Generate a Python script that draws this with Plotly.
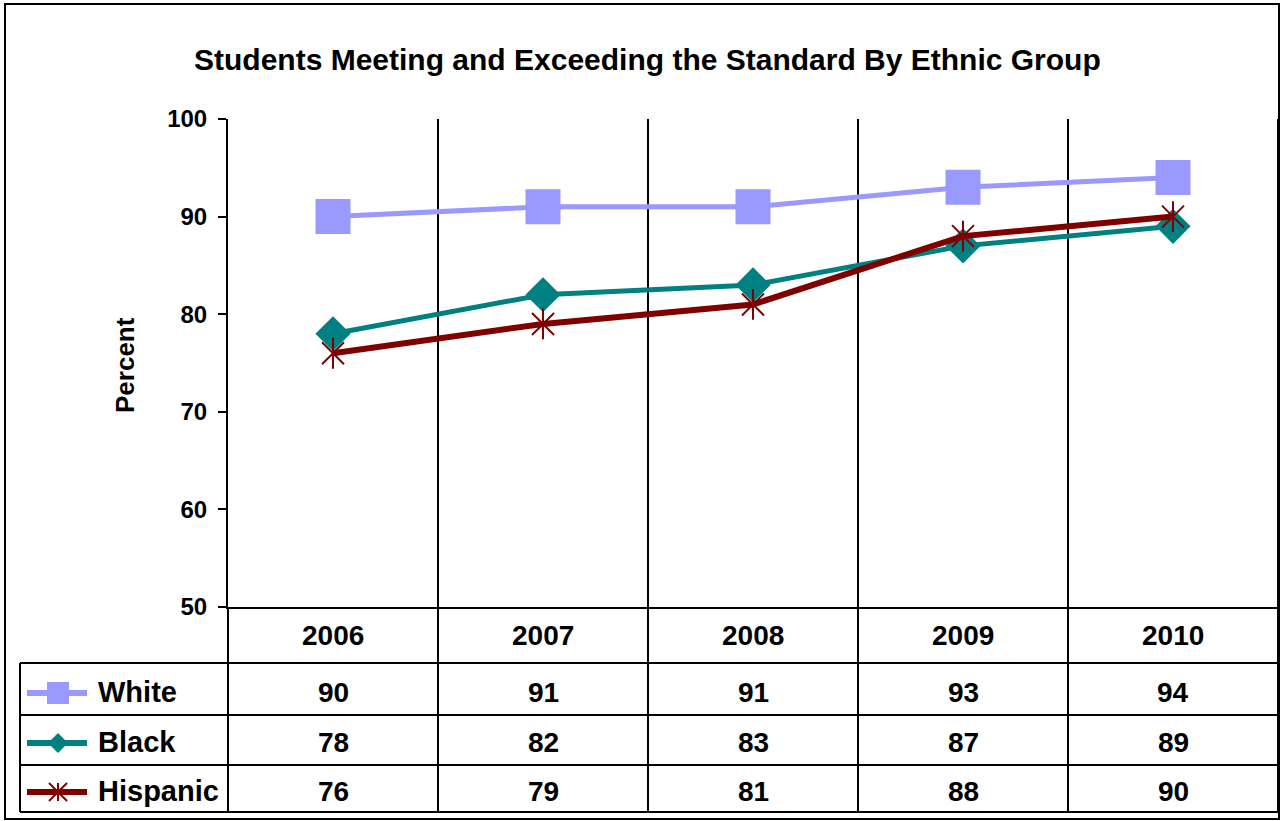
import plotly.graph_objects as go

# ---------------- data ----------------
years = ["2006", "2007", "2008", "2009", "2010"]
white = [90, 91, 91, 93, 94]
black = [78, 82, 83, 87, 89]
hispanic = [76, 79, 81, 88, 90]
series_names = ["White", "Black", "Hispanic"]
series_values = [white, black, hispanic]
y_ticks = [50, 60, 70, 80, 90, 100]
title_text = "Students Meeting and Exceeding the Standard By Ethnic Group"
y_title = "Percent"

# ---------------- layout constants (pixels) ----------------
W, H = 1280, 821
PL, PR, PT, PB = 228, 1278, 119, 607
FONT = "Liberation Sans, Arial, sans-serif"
colors = ["#9999FF", "#008080", "#800000"]
row_lines = [663, 715, 765, 812]
row_text_y = [692, 742, 791]
year_text_y = 635


def px(x):
    return (x - PL) / (PR - PL)


def py(y):
    return (PB - y) / (PB - PT)


fig = go.Figure()

fig.add_trace(go.Scatter(x=years, y=white, mode="lines+markers", name="White",
                         line=dict(color=colors[0], width=5),
                         marker=dict(symbol="square", size=35, color=colors[0])))
fig.add_trace(go.Scatter(x=years, y=black, mode="lines+markers", name="Black",
                         line=dict(color=colors[1], width=5),
                         marker=dict(symbol="diamond", size=27, color=colors[1])))
fig.add_trace(go.Scatter(x=years, y=hispanic, mode="lines+markers", name="Hispanic",
                         line=dict(color=colors[2], width=6),
                         marker=dict(symbol="x-thin-open", size=22, color=colors[2],
                                     line=dict(color=colors[2], width=2))))
fig.add_trace(go.Scatter(x=years, y=hispanic, mode="markers", name="Hispanic ",
                         marker=dict(symbol="line-ns-open", size=22, color=colors[2],
                                     line=dict(color=colors[2], width=2))))

shapes = []


def pline(x0, y0, x1, y1, w=2, color="black"):
    shapes.append(dict(type="line", xref="paper", yref="paper",
                       x0=px(x0), y0=py(y0), x1=px(x1), y1=py(y1),
                       line=dict(color=color, width=w)))


# outer border
shapes.append(dict(type="rect", xref="paper", yref="paper",
                   x0=px(5), y0=py(4), x1=px(1279), y1=py(819),
                   line=dict(color="black", width=2)))
# table lines
for yy in row_lines:
    pline(20, yy, PR, yy)
pline(20, row_lines[0], 20, row_lines[-1])
colw = (PR - PL) / len(years)
for i in range(len(years) + 1):
    xx = PL + colw * i
    pline(xx, PB, xx, row_lines[-1])
pline(PR, PT, PR, PB)

# legend glyphs inside table
gx0, gx1, gxc = 27, 87, 58
for i in range(3):
    yy = row_text_y[i] + 1
    pline(gx0, yy, gx1, yy, w=6, color=colors[i])
s = 11
shapes.append(dict(type="rect", xref="paper", yref="paper", x0=px(gxc - s), x1=px(gxc + s),
                   y0=py(row_text_y[0] + 1 - s), y1=py(row_text_y[0] + 1 + s),
                   fillcolor=colors[0], line=dict(width=0)))
d = 10
yc = row_text_y[1] + 1
shapes.append(dict(type="path", xref="paper", yref="paper",
                   path=f"M {px(gxc - d)},{py(yc)} L {px(gxc)},{py(yc - d)} L {px(gxc + d)},{py(yc)} L {px(gxc)},{py(yc + d)} Z",
                   fillcolor=colors[1], line=dict(width=0)))
r = 9
yc = row_text_y[2] + 1
pline(gxc - r, yc - r, gxc + r, yc + r, w=2, color=colors[2])
pline(gxc - r, yc + r, gxc + r, yc - r, w=2, color=colors[2])
pline(gxc, yc - r, gxc, yc + r, w=2, color=colors[2])

annotations = []
bold = dict(family=FONT, color="black", weight="bold")
annotations.append(dict(text=title_text, xref="paper", yref="paper", x=px(647), y=py(60),
                        showarrow=False, font=dict(size=30, **bold),
                        xanchor="center", yanchor="middle"))
annotations.append(dict(text=y_title, xref="paper", yref="paper", x=px(125), y=py(365),
                        showarrow=False, textangle=-90, font=dict(size=26, **bold),
                        xanchor="center", yanchor="middle"))
col_centers = [px(PL + colw * (j + 0.5)) for j in range(len(years))]
for j, yr in enumerate(years):
    annotations.append(dict(text=yr, xref="paper", yref="paper", x=col_centers[j], y=py(year_text_y),
                            showarrow=False, font=dict(size=28, **bold),
                            xanchor="center", yanchor="middle"))
for i, (name, vals) in enumerate(zip(series_names, series_values)):
    annotations.append(dict(text=name, xref="paper", yref="paper", x=px(96), y=py(row_text_y[i]),
                            showarrow=False, font=dict(size=29, **bold),
                            xanchor="left", yanchor="middle"))
    for j, v in enumerate(vals):
        annotations.append(dict(text=str(v), xref="paper", yref="paper", x=col_centers[j],
                                y=py(row_text_y[i]), showarrow=False, font=dict(size=28, **bold),
                                xanchor="center", yanchor="middle"))

fig.update_layout(
    width=W, height=H,
    margin=dict(l=PL, r=W - PR, t=PT, b=H - PB, pad=0, autoexpand=False),
    paper_bgcolor="white", plot_bgcolor="white",
    showlegend=False,
    xaxis=dict(type="category", range=[-0.5, len(years) - 0.5],
               showticklabels=False, ticks="",
               tickson="boundaries", showgrid=True, gridcolor="black", gridwidth=2,
               showline=True, linecolor="black", linewidth=2, zeroline=False, fixedrange=True),
    yaxis=dict(range=[50, 100],
               tickvals=y_ticks, ticks="outside", ticklen=8, tickwidth=2, tickcolor="black",
               showline=True, linecolor="black", linewidth=2, showgrid=False, zeroline=False,
               tickfont=dict(size=24, **bold), ticklabelstandoff=6, fixedrange=True),
    shapes=shapes,
    annotations=annotations,
)

fig.write_html("out.html", config={"displayModeBar": False},
               post_script="document.body.style.margin='0';")
